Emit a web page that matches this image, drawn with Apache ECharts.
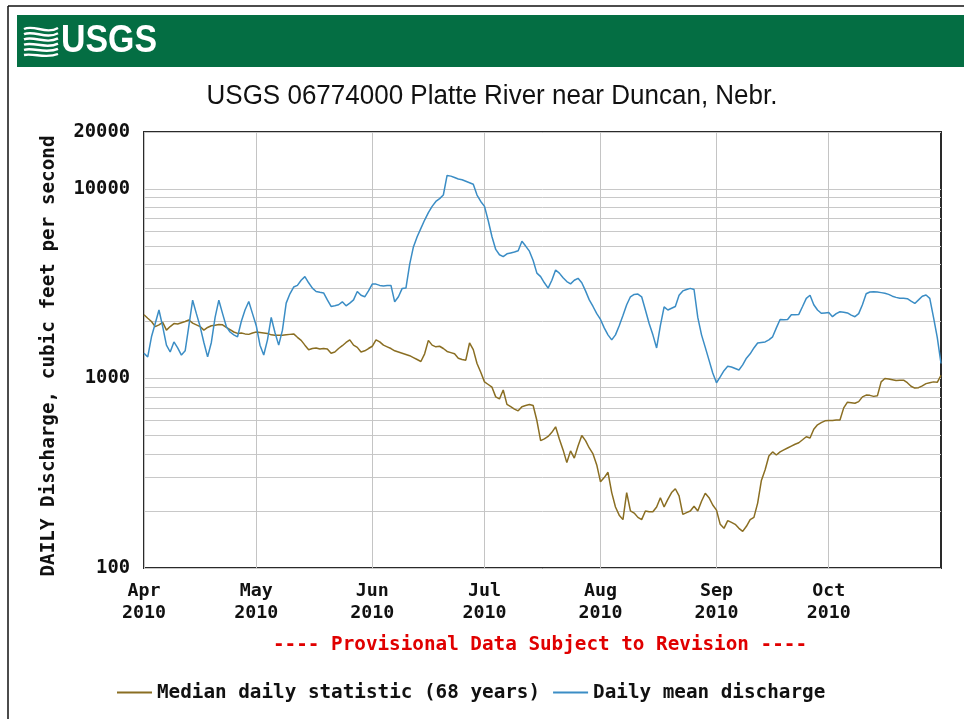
<!DOCTYPE html>
<html><head><meta charset="utf-8">
<script src="https://cdn.jsdelivr.net/npm/echarts@6/dist/echarts.min.js"></script>
<style>html,body{margin:0;padding:0;background:#fff}#c{width:964px;height:719px}</style>
</head><body><div id="c"></div>
<script>
// ---------------- data ----------------
const titleText = 'USGS 06774000 Platte River near Duncan, Nebr.';
const yAxisTitle = 'DAILY Discharge, cubic feet per second';
const provisionalText = '---- Provisional Data Subject to Revision ----';
const logoText = 'USGS';
const seriesNames = ['Median daily statistic (68 years)', 'Daily mean discharge'];
const startYear = 2010, startMonth = 4, dayCount = 214; // Apr 1 .. Oct 31, 2010
const monthNames = ['Jan','Feb','Mar','Apr','May','Jun','Jul','Aug','Sep','Oct','Nov','Dec'];
const yTickLabels = [100, 1000, 10000, 20000];
const yMin = 100, yMax = 20000;

const medianDaily = [
2170,2080,2000,1880,1920,1980,1800,1880,1950,1940,
1970,2000,2036,1960,1920,1880,1800,1860,1900,1910,
1930,1920,1860,1810,1760,1730,1740,1720,1710,1740,
1760,1750,1740,1730,1700,1690,1690,1690,1700,1710,
1720,1650,1590,1500,1420,1440,1450,1430,1440,1430,
1360,1380,1440,1490,1550,1600,1500,1460,1380,1400,
1440,1480,1600,1560,1500,1470,1440,1400,1380,1360,
1340,1320,1290,1260,1230,1350,1590,1500,1470,1480,
1440,1390,1370,1350,1280,1260,1250,1540,1420,1200,
1080,960,930,900,800,780,870,730,710,690,
675,710,720,730,720,600,470,480,495,520,
556,480,420,360,415,380,440,500,470,430,
400,350,285,300,320,250,210,190,180,250,
200,195,185,180,200,198,198,210,235,210,
230,250,262,240,192,196,200,212,200,225,
248,235,215,202,170,162,178,174,170,162,
156,166,180,185,220,290,330,390,410,395,
410,420,430,440,450,458,475,493,485,540,
570,585,598,600,600,604,604,700,750,745,
740,755,800,818,815,805,810,960,1000,995,
985,975,980,980,950,910,890,895,915,940,
950,960,955,1040
];

const dailyMean = [
1360,1300,1660,1950,2300,1880,1500,1380,1560,1450,
1330,1400,1900,2590,2200,1880,1550,1300,1550,2100,
2590,2200,1880,1760,1700,1660,2000,2300,2550,2200,
1900,1500,1330,1600,2100,1750,1500,1800,2500,2800,
3040,3100,3300,3450,3200,3000,2880,2850,2830,2600,
2400,2420,2450,2540,2420,2500,2600,2880,2750,2700,
2900,3150,3150,3100,3080,3100,3100,2540,2700,2990,
3000,4000,4950,5600,6200,6860,7500,8100,8600,8900,
9300,11800,11700,11500,11300,11200,11000,10800,10600,9300,
8600,8100,6800,5600,4800,4500,4400,4550,4600,4650,
4720,5300,5000,4700,4200,3600,3450,3200,3000,3300,
3740,3600,3400,3250,3160,3300,3380,3200,2900,2600,
2400,2200,2050,1850,1700,1600,1700,1900,2150,2450,
2700,2780,2790,2700,2300,1950,1700,1450,1900,2390,
2300,2350,2400,2750,2900,2950,2990,2950,2100,1700,
1460,1250,1070,950,1020,1100,1160,1150,1130,1110,
1180,1280,1350,1450,1540,1550,1560,1600,1660,1850,
2050,2040,2050,2170,2170,2180,2400,2650,2750,2450,
2300,2210,2220,2230,2120,2200,2250,2240,2220,2160,
2120,2200,2450,2800,2860,2870,2860,2840,2820,2780,
2720,2680,2650,2650,2640,2560,2490,2600,2720,2760,
2650,2100,1650,1200
];

// ---------------- helpers ----------------
const pad = n => (n < 10 ? '0' : '') + n;
const categories = [];
for (let i = 0; i < dayCount; i++) {
  const d = new Date(Date.UTC(startYear, startMonth - 1, 1 + i));
  categories.push(d.getUTCFullYear() + '-' + pad(d.getUTCMonth() + 1) + '-' + pad(d.getUTCDate()));
}
const gridValues = [];
for (let dec = 100; dec < yMax; dec *= 10) {
  for (let k = 1; k <= 9; k++) { const v = dec * k; if (v <= yMax) gridValues.push(v); }
}
gridValues.push(yMax);

const ctx2d = document.createElement('canvas').getContext('2d');
function textWidth(text, font) { ctx2d.font = font; return ctx2d.measureText(text).width; }
const sansFamily = '"Liberation Sans", Arial, sans-serif';
const monoFamily = '"DejaVu Sans Mono", "Liberation Mono", monospace';
const titleFont = 'normal 27px ' + sansFamily;
const titleScale = Math.min(1, 571 / textWidth(titleText, titleFont));
const logoFont = 'bold 38px ' + sansFamily;
const logoScale = Math.min(1, 96 / textWidth(logoText, logoFont));

const isMonthStart = (idx, val) => String(val).slice(8) === '01';

// logo wave lines
const waves = [];
for (let i = 0; i < 6; i++) {
  const y = 29 + i * 5.2;
  waves.push({
    type: 'bezierCurve', silent: true,
    shape: { x1: 24, y1: y, cpx1: 34, cpy1: y - 5 + i * 0.6, cpx2: 46, cpy2: y + 6 - i * 0.4, x2: 58, y2: y - 1 },
    style: { stroke: '#fff', lineWidth: 2.4, fill: null }
  });
}

const chart = echarts.init(document.getElementById('c'), null, { renderer: 'canvas' });
chart.setOption({
  animation: false,
  backgroundColor: '#fff',
  grid: { left: 144, right: 23, top: 132, bottom: 151, show: true, borderColor: '#2a2a2a', borderWidth: 2, backgroundColor: 'transparent', containLabel: false, outerBoundsMode: 'none' },
  xAxis: {
    type: 'category', data: categories, boundaryGap: false,
    axisLine: { show: false }, axisTick: { show: false },
    axisLabel: {
      interval: isMonthStart, margin: 12, color: '#111',
      fontFamily: monoFamily, fontWeight: 'bold', fontSize: 18.3, lineHeight: 22,
      formatter: v => monthNames[+v.slice(5, 7) - 1] + '\n' + v.slice(0, 4)
    },
    splitLine: { show: true, interval: isMonthStart, lineStyle: { color: '#c4c4c4', width: 1 } }
  },
  yAxis: {
    type: 'log', logBase: 10, min: yMin, max: yMax,
    axisLine: { show: false },
    axisTick: { show: false, customValues: gridValues },
    axisLabel: {
      customValues: yTickLabels, margin: 14, color: '#111',
      fontFamily: monoFamily, fontWeight: 'bold', fontSize: 18.8,
      formatter: v => String(Math.round(v))
    },
    splitLine: { show: true, lineStyle: { color: '#c8c8c8', width: 1 } },
    minorSplitLine: { show: false }
  },
  legend: {
    left: 112, top: 678, icon: 'rect', itemWidth: 35, itemHeight: 2, itemGap: 13,
    textStyle: { fontFamily: monoFamily, fontWeight: 'bold', fontSize: 19.3, color: '#111' },
    data: seriesNames
  },
  series: [
    { name: seriesNames[0], type: 'line', data: medianDaily, showSymbol: false, symbol: 'none',
      color: '#8a6e22', lineStyle: { color: '#8a6e22', width: 1.5 }, z: 3 },
    { name: seriesNames[1], type: 'line', data: dailyMean, showSymbol: false, symbol: 'none',
      color: '#3b8dc5', lineStyle: { color: '#3b8dc5', width: 1.5 }, z: 4 }
  ],
  graphic: [
    { type: 'line', silent: true, shape: { x1: 8, y1: 6, x2: 964, y2: 6 }, style: { stroke: '#111', lineWidth: 1.5 } },
    { type: 'line', silent: true, shape: { x1: 8, y1: 6, x2: 8, y2: 719 }, style: { stroke: '#111', lineWidth: 1.5 } },
    { type: 'rect', silent: true, shape: { x: 17, y: 15, width: 947, height: 52 }, style: { fill: '#046e43' } },
    { type: 'group', silent: true, children: waves },
    { type: 'text', silent: true, x: 61, y: 42, scaleX: logoScale,
      style: { text: logoText, fill: '#fff', font: logoFont, align: 'left', verticalAlign: 'middle' } },
    { type: 'text', silent: true, x: 492, y: 97, scaleX: titleScale,
      style: { text: titleText, fill: '#111', font: titleFont, align: 'center', verticalAlign: 'middle' } },
    { type: 'text', silent: true, x: 49, y: 356, rotation: Math.PI / 2,
      style: { text: yAxisTitle, fill: '#111', font: 'bold 19.3px ' + monoFamily, align: 'center', verticalAlign: 'middle' } },
    { type: 'text', silent: true, x: 540, y: 645,
      style: { text: provisionalText, fill: '#e00000', font: 'bold 19.3px ' + monoFamily, align: 'center', verticalAlign: 'middle' } }
  ]
});
</script>
</body></html>
